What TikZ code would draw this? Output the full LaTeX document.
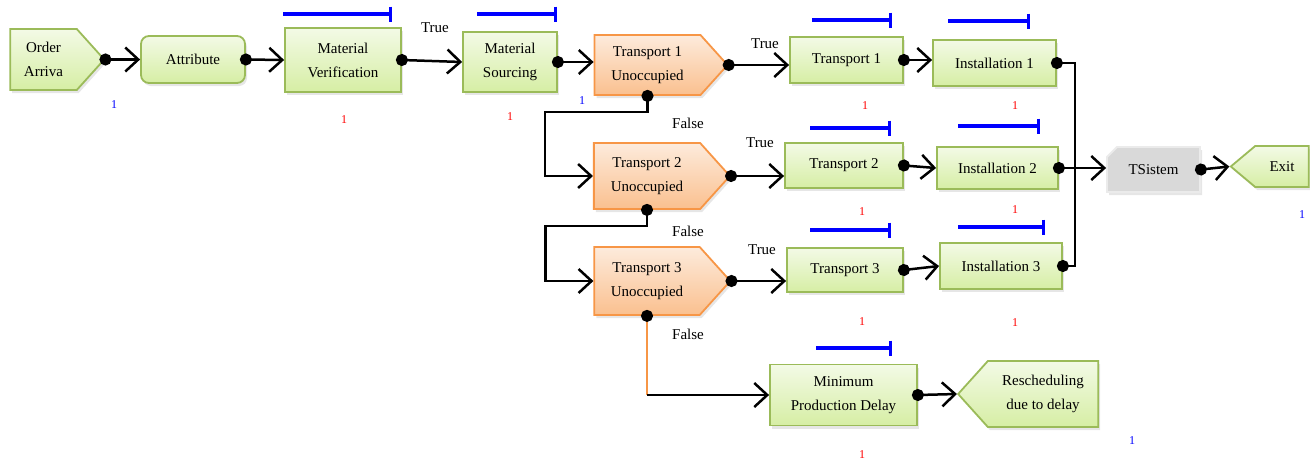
\documentclass[tikz,border=0pt]{standalone}
\usepackage{fontspec}
\setmainfont{Liberation Serif}
\usetikzlibrary{shapes.symbols,shapes.misc,shadows,arrows.meta}

\definecolor{gline}{HTML}{9BBB59}
\definecolor{gtop}{HTML}{F3FAE6}
\definecolor{gbot}{HTML}{D6EEA4}
\definecolor{oline}{HTML}{F79646}
\definecolor{otop}{HTML}{FDEBDC}
\definecolor{obot}{HTML}{FAC08F}
\definecolor{gfill}{HTML}{D9D9D9}

\tikzstyle{g} = [rectangle, draw=gline, line width=1.8pt, top color=gtop, bottom color=gbot, align=center, inner sep=2pt, drop shadow={opacity=0.2, shadow xshift=2pt, shadow yshift=-3pt}]
\tikzstyle{gs} = [g, signal, signal to=east, signal pointer angle=96]
\tikzstyle{o} = [gs, draw=oline, top color=otop, bottom color=obot]
\tikzstyle{gr} = [g, chamfered rectangle, chamfered rectangle corners=north west, chamfered rectangle sep=5pt, draw=black!8, fill=gfill, top color=gfill, bottom color=gfill]
\tikzstyle{c} = [line width=2.5pt, shorten <=-6pt, {Circle[length=12pt]}-{Straight Barb[length=13pt,width=24pt]}]
\tikzstyle{ca} = [line width=2.5pt, -{Straight Barb[length=13pt,width=24pt]}]
\tikzstyle{cd} = [line width=2.5pt, shorten <=-6pt, {Circle[length=12pt,color=black]}-]
\tikzstyle{bb} = [blue, line width=4pt, -{Bar[width=15pt,line width=3pt]}]
\tikzstyle{r1} = [red, font=\fontsize{12}{12}\selectfont, inner sep=0pt]
\tikzstyle{b1} = [blue, font=\fontsize{12}{12}\selectfont, inner sep=0pt]
\tikzstyle{lb} = [inner sep=0pt]

\begin{document}
\begin{tikzpicture}[x=1pt, y=-1pt, font=\fontsize{15}{24}\selectfont]
	\useasboundingbox (0,0) rectangle (1310,461);

	\node [gs, minimum width=94pt, minimum height=61pt] (oa) at (43.5,59.5) {Order\\Arriva};
	\node [g, rounded corners=8pt, minimum width=104pt, minimum height=47pt] (at) at (193,59.5) {Attribute};
	\node [g, minimum width=116pt, minimum height=64pt] (mv) at (343,60) {Material\\Verification};
	\node [g, minimum width=94pt, minimum height=60pt] (ms) at (510,62) {Material\\Sourcing};
	\node [o, minimum width=133pt, minimum height=60pt] (t1u) at (647.5,65) {Transport 1\\Unoccupied};
	\node [o, minimum width=136pt, minimum height=66pt] (t2u) at (647,176) {Transport 2\\Unoccupied};
	\node [o, minimum width=136pt, minimum height=68pt] (t3u) at (647,281) {Transport 3\\Unoccupied};
	\node [g, minimum width=113pt, minimum height=46pt] (tr1) at (846.5,60) {Transport 1};
	\node [g, minimum width=123pt, minimum height=46pt] (i1) at (994.5,63) {Installation 1};
	\node [g, minimum width=118pt, minimum height=45pt] (tr2) at (844,165.5) {Transport 2};
	\node [g, minimum width=121pt, minimum height=42pt] (i2) at (997.5,168) {Installation 2};
	\node [g, minimum width=116pt, minimum height=44pt] (tr3) at (845,270) {Transport 3};
	\node [g, minimum width=122pt, minimum height=46pt] (i3) at (1001,266) {Installation 3};
	\node [g, minimum width=147pt, minimum height=61pt] (mpd) at (843.5,395) {Minimum\\Production Delay};
	\node [gs, signal to=west, minimum width=140pt, minimum height=66pt] (rs) at (1043,394) {Rescheduling\\due to delay};
	\node [gr, minimum width=93pt, minimum height=45pt] (ts) at (1153.5,169.5) {TSistem};
	\node [gs, signal to=west, signal pointer angle=80, minimum width=78pt, minimum height=41pt] (ex) at (1282,166.5) {Exit};

	\draw [bb] (283,14) -- (392,14);
	\draw [bb] (477,14) -- (557,14);
	\draw [bb] (812,20) -- (892,20);
	\draw [bb] (948,21) -- (1030,21);
	\draw [bb] (810,128) -- (891,128);
	\draw [bb] (958,126) -- (1040,126);
	\draw [bb] (810,230) -- (891,230);
	\draw [bb] (958,227) -- (1045,227);
	\draw [bb] (816,348) -- (892,348);

	\draw [c] (oa.east) -- (at.west);
	\draw [c] (at.east) -- (mv.west);
	\draw [c] (mv.east) -- (ms.west);
	\draw [c] (ms.east) -- (ms.east -| t1u.west);
	\draw [c] (t1u.east) -- (t1u.east -| tr1.west);
	\draw [c] (tr1.east) -- (tr1.east -| i1.west);
	\draw [c] (t2u.east) -- (t2u.east -| tr2.west);
	\draw [c] (tr2.east) -- (i2.west);
	\draw [c] (t3u.east) -- (t3u.east -| tr3.west);
	\draw [c] (tr3.east) -- (i3.west);
	\draw [c] (t1u.south) -- ++(0,16) -| ([xshift=-48pt]t2u.west) -- (t2u.west);
	\draw [c] (t2u.south) -- ++(0,16) -| ([xshift=-48pt]t3u.west) -- (t3u.west);

	\coordinate (kb) at (t3u.south |- mpd.west);
	\draw [cd, oline] (t3u.south) -- (kb);
	\draw [ca] (kb) -- (mpd.west);
	\draw [c] (mpd.east) -- (rs.west);

	\coordinate (jn) at (1075,168);
	\draw [cd] (i1.east) -| (jn);
	\draw [cd] (i3.east) -| (jn);
	\draw [c] (i2.east) -- (i2.east -| ts.west);
	\draw [c] (ts.east) -- (ex.west);

	\node [lb] (lt1) at (435,28) {True};
	\node [lb] (lt2) at (765,44) {True};
	\node [lb] (lt3) at (760,143) {True};
	\node [lb] (lt4) at (762,250) {True};
	\node [lb] (lf1) at (688,123) {False};
	\node [lb] (lf2) at (688,231) {False};
	\node [lb] (lf3) at (688,334) {False};

	\node [r1] (n1) at (344,120) {1};
	\node [r1] (n2) at (510,117) {1};
	\node [r1] (n3) at (865,106) {1};
	\node [r1] (n4) at (1015,106) {1};
	\node [r1] (n5) at (862,212) {1};
	\node [r1] (n6) at (1015,210) {1};
	\node [r1] (n7) at (862,322) {1};
	\node [r1] (n8) at (1015,323) {1};
	\node [r1] (n9) at (862,455) {1};
	\node [b1] (m1) at (114,105) {1};
	\node [b1] (m2) at (582,101) {1};
	\node [b1] (m3) at (1302,215) {1};
	\node [b1] (m4) at (1132,441) {1};
\end{tikzpicture}
\end{document}
